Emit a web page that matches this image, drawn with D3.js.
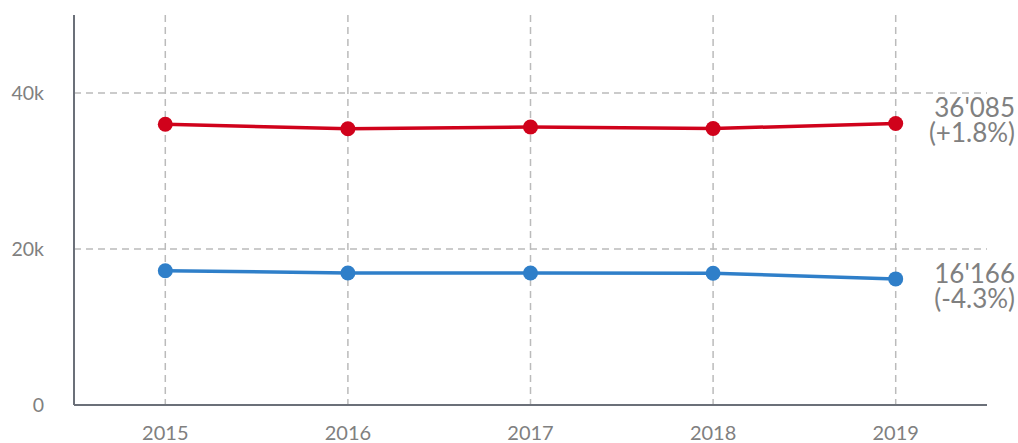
<!DOCTYPE html>
<html>
<head>
<meta charset="utf-8">
<script src="https://d3js.org/d3.v7.min.js"></script>
<style>
  body { margin: 0; background: #fff; }
  text { font-family: Lato, "Open Sans", sans-serif; }
</style>
</head>
<body>
<script>
var years = [2015, 2016, 2017, 2018, 2019];
var redValues = [35990, 35420, 35640, 35450, 36085];
var blueValues = [17220, 16930, 16930, 16890, 16166];
var yTicks = [0, 20000, 40000];
var redLabel = ["36'085", "(+1.8%)"];
var blueLabel = ["16'166", "(-4.3%)"];

var width = 1018, height = 443;
var margin = {top: 15, right: 31, bottom: 38, left: 74};

var svg = d3.select("body").append("svg")
    .attr("width", width)
    .attr("height", height);

var x = d3.scaleLinear()
    .domain([2014.5, 2019.5])
    .range([margin.left, width - margin.right]);

var y = d3.scaleLinear()
    .domain([0, 50000])
    .range([height - margin.bottom, margin.top]);

var gridColor = "#bbbbbb",
    axisColor = "#6b7079",
    textColor = "#808080";

// Grid lines
svg.selectAll(".gridY")
    .data(yTicks.filter(function(d) { return d > 0; }))
  .enter().append("line")
    .attr("x1", margin.left)
    .attr("x2", width - margin.right)
    .attr("y1", function(d) { return y(d); })
    .attr("y2", function(d) { return y(d); })
    .attr("stroke", gridColor)
    .attr("stroke-width", 1.5)
    .attr("stroke-dasharray", "7,5");

svg.selectAll(".gridX")
    .data(years)
  .enter().append("line")
    .attr("x1", function(d) { return x(d); })
    .attr("x2", function(d) { return x(d); })
    .attr("y1", margin.top)
    .attr("y2", y(0))
    .attr("stroke", gridColor)
    .attr("stroke-width", 1.5)
    .attr("stroke-dasharray", "7,5");

// Axes
svg.append("line")
    .attr("x1", margin.left).attr("x2", margin.left)
    .attr("y1", margin.top).attr("y2", y(0))
    .attr("stroke", axisColor).attr("stroke-width", 2);

svg.append("line")
    .attr("x1", margin.left).attr("x2", width - margin.right)
    .attr("y1", y(0)).attr("y2", y(0))
    .attr("stroke", axisColor).attr("stroke-width", 2);

svg.selectAll(".ytick")
    .data(yTicks)
  .enter().append("text")
    .attr("x", 44)
    .attr("y", function(d) { return y(d); })
    .attr("dy", "0.35em")
    .attr("text-anchor", "end")
    .attr("font-size", 19.5)
    .attr("fill", textColor)
    .text(function(d) { return d === 0 ? "0" : (d / 1000) + "k"; });

svg.selectAll(".xtick")
    .data(years)
  .enter().append("text")
    .attr("x", function(d) { return x(d); })
    .attr("y", 440)
    .attr("text-anchor", "middle")
    .attr("font-size", 20)
    .attr("fill", textColor)
    .text(function(d) { return d; });

// Series
var line = d3.line()
    .x(function(d, i) { return x(years[i]); })
    .y(function(d) { return y(d); });

function drawSeries(values, color, label, offset) {
    svg.append("path")
        .datum(values)
        .attr("d", line)
        .attr("fill", "none")
        .attr("stroke", color)
        .attr("stroke-width", 3.5);

    svg.selectAll(null)
        .data(values)
      .enter().append("circle")
        .attr("cx", function(d, i) { return x(years[i]); })
        .attr("cy", function(d) { return y(d); })
        .attr("r", 7.5)
        .attr("fill", color);

    var last = values[values.length - 1];
    var t = svg.append("text")
        .attr("x", 1015)
        .attr("y", y(last) + offset)
        .attr("text-anchor", "end")
        .attr("font-size", 26)
        .attr("fill", textColor);
    t.append("tspan").attr("x", 1015).text(label[0]);
    t.append("tspan").attr("x", 1015).attr("dy", 25).text(label[1]);
}

drawSeries(redValues, "#d0021b", redLabel, -6.5);
drawSeries(blueValues, "#2f7fc9", blueLabel, 4.5);
</script>
</body>
</html>
